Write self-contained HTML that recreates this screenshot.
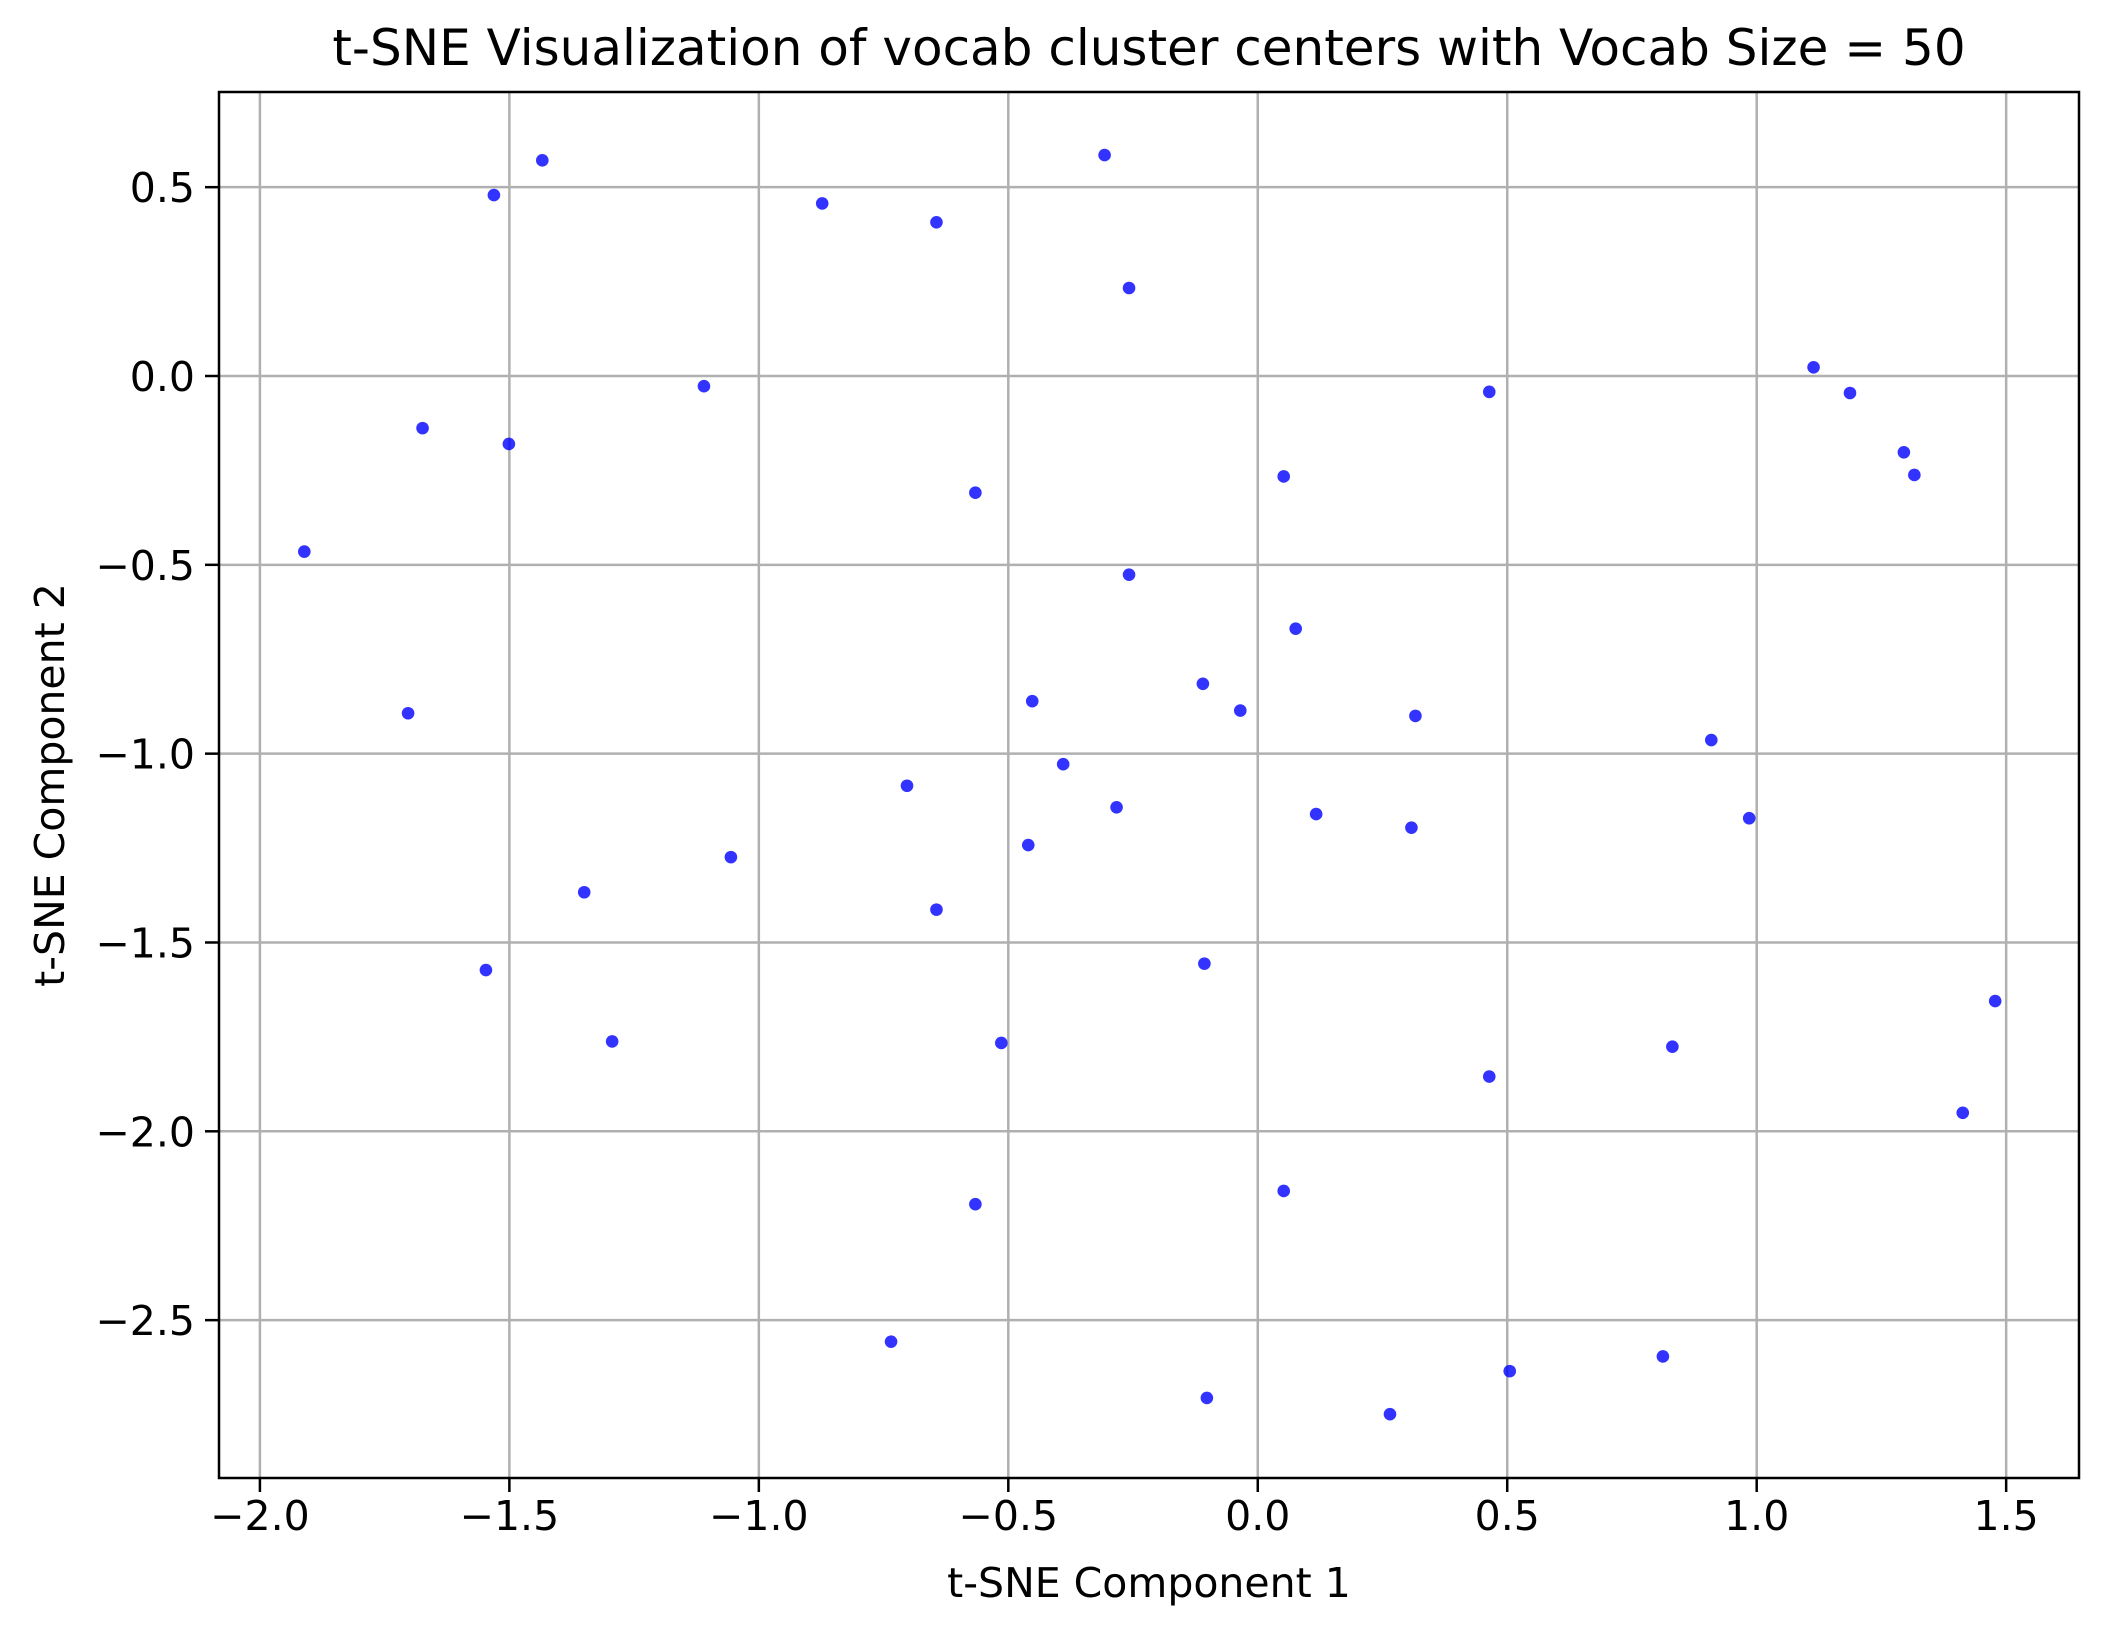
<!DOCTYPE html>
<html><head><meta charset="utf-8"><style>
html,body{margin:0;padding:0;background:#fff;}
svg{display:block;font-family:"DejaVu Sans","Liberation Sans",sans-serif;}
</style></head><body>
<svg id="chart" width="2108" height="1638" viewBox="0 0 2108 1638" xmlns="http://www.w3.org/2000/svg">
<rect width="2108" height="1638" fill="#fff"/>
<g id="grid"></g>
<g id="points"></g>
<rect x="219" y="92" width="1860" height="1386" fill="none" stroke="#000" stroke-width="2.5"/>
<g id="ticks"></g>
<text x="1149" y="65" font-size="50" text-anchor="middle">t-SNE Visualization of vocab cluster centers with Vocab Size = 50</text>
<text x="1149" y="1597" font-size="41" text-anchor="middle">t-SNE Component 1</text>
<text x="0" y="0" font-size="41" text-anchor="middle" transform="translate(64,785) rotate(-90)">t-SNE Component 2</text>
</svg>
<script>
const xs = [-1.911,-1.703,-1.674,-1.531,-1.501,-1.434,-1.547,-1.350,-1.294,-1.110,-1.056,-0.873,-0.644,-0.566,-0.703,-0.644,-0.735,-0.566,-0.514,-0.460,-0.452,-0.390,-0.307,-0.258,-0.258,-0.283,-0.110,-0.107,-0.102,-0.035,0.052,0.076,0.052,0.117,0.265,0.308,0.316,0.464,0.464,0.505,0.812,0.831,0.909,0.985,1.114,1.187,1.295,1.316,1.413,1.478];
const ys = [-0.465,-0.893,-0.138,0.479,-0.180,0.571,-1.573,-1.367,-1.762,-0.027,-1.274,0.457,0.407,-0.309,-1.085,-1.413,-2.557,-2.193,-1.766,-1.242,-0.861,-1.028,0.585,0.233,-0.526,-1.142,-0.815,-1.556,-2.706,-0.886,-0.266,-0.669,-2.158,-1.160,-2.749,-1.196,-0.900,-0.042,-1.855,-2.635,-2.596,-1.776,-0.964,-1.171,0.023,-0.045,-0.202,-0.262,-1.951,-1.655];
const xTicks = [-2.0,-1.5,-1.0,-0.5,0.0,0.5,1.0,1.5];
const yTicks = [0.5,0.0,-0.5,-1.0,-1.5,-2.0,-2.5];
const xTickLabels = ["\u22122.0","\u22121.5","\u22121.0","\u22120.5","0.0","0.5","1.0","1.5"];
const yTickLabels = ["0.5","0.0","\u22120.5","\u22121.0","\u22121.5","\u22122.0","\u22122.5"];

const L=219,R=2079,T=92,B=1478;
const xMin=-2.082,xMax=1.646,yMin=-2.918,yMax=0.752;
function sx(v){return L+(v-xMin)/(xMax-xMin)*(R-L);}
function sy(v){return B-(v-yMin)/(yMax-yMin)*(B-T);}
const NS="http://www.w3.org/2000/svg";
function mk(tag,attrs){const e=document.createElementNS(NS,tag);for(const k in attrs)e.setAttribute(k,attrs[k]);return e;}
const grid=document.getElementById('grid'),ticks=document.getElementById('ticks'),pts=document.getElementById('points');
xTicks.forEach((v,i)=>{
  const x=sx(v);
  const g=mk('line',{x1:x,x2:x,y1:T,y2:B,stroke:'#b0b0b0','stroke-width':2.5});
  
  
  grid.appendChild(g);
  const t=mk('line',{x1:x,x2:x,y1:B,y2:B+14,stroke:'#000','stroke-width':2.5});
  
  
  ticks.appendChild(t);
  const tx=mk('text',{x:x,y:B+52,'font-size':41,'text-anchor':'middle'});
  tx.textContent=xTickLabels[i];
  
  
  ticks.appendChild(tx);
});
yTicks.forEach((v,i)=>{
  const y=sy(v);
  const g=mk('line',{x1:L,x2:R,y1:y,y2:y,stroke:'#b0b0b0','stroke-width':2.5});
  
  
  grid.appendChild(g);
  const t=mk('line',{x1:L-14,x2:L,y1:y,y2:y,stroke:'#000','stroke-width':2.5});
  
  
  ticks.appendChild(t);
  const tx=mk('text',{x:L-24,y:y+15,'font-size':41,'text-anchor':'end'});
  tx.textContent=yTickLabels[i];
  
  
  ticks.appendChild(tx);
});
xs.forEach((v,i)=>{
  const c=mk('circle',{cx:sx(v),cy:sy(ys[i]),r:6.3,fill:'#0000ff','fill-opacity':0.8});
  
  
  pts.appendChild(c);
});
</script>
</body></html>
